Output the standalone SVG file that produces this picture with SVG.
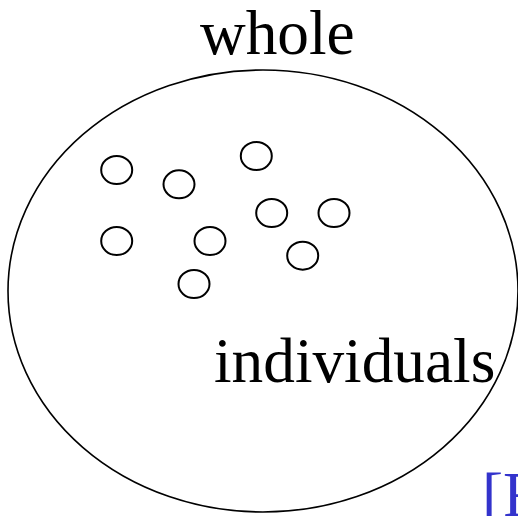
<svg xmlns="http://www.w3.org/2000/svg" width="518" height="516" viewBox="0 0 518 516">
<style>
.t{font-family:"Liberation Serif","Times New Roman",serif;font-size:63.3px;fill:#000}
.c{fill:none;stroke:#000;stroke-width:2}
.big{fill:none;stroke:#000;stroke-width:1.6}
</style>
<rect width="518" height="516" fill="#fff"/>
<g id="whole">
<ellipse class="big" cx="263" cy="291" rx="255" ry="221"/>
<text class="t" x="200" y="54">whole</text>
</g>
<g id="individuals">
<ellipse class="c" cx="116.7" cy="170" rx="15.5" ry="14"/>
<ellipse class="c" cx="179" cy="184.3" rx="15.5" ry="14"/>
<ellipse class="c" cx="256.3" cy="156" rx="15.5" ry="14"/>
<ellipse class="c" cx="271.7" cy="213" rx="15.5" ry="14"/>
<ellipse class="c" cx="334" cy="213" rx="15.5" ry="14"/>
<ellipse class="c" cx="116.7" cy="241" rx="15.5" ry="14"/>
<ellipse class="c" cx="210" cy="241" rx="15.5" ry="14"/>
<ellipse class="c" cx="302.7" cy="255.7" rx="15.5" ry="14"/>
<ellipse class="c" cx="194" cy="284" rx="15.5" ry="14"/>
<text class="t" x="214" y="382">individuals</text>
</g>
<g id="connectors"></g>
<text class="t" x="482" y="516" style="fill:#3333cc">[F</text>
</svg>
